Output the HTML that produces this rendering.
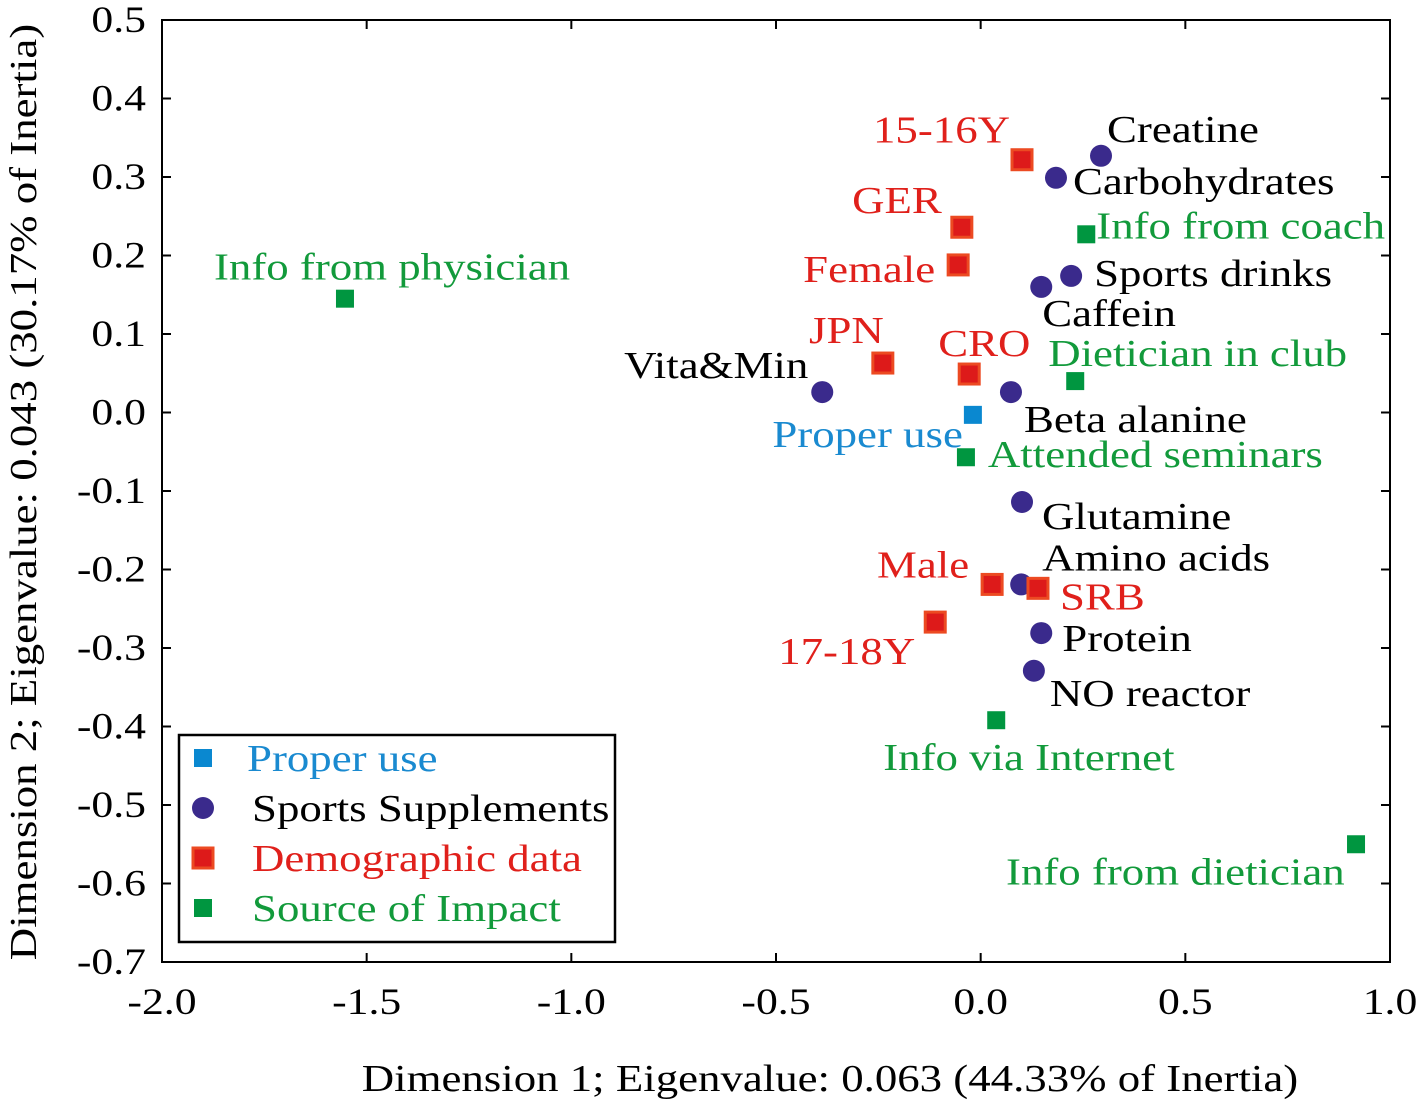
<!DOCTYPE html>
<html><head><meta charset="utf-8"><style>
body{margin:0;background:#fff}
svg text{font-family:"Liberation Serif",serif}
</style></head><body>
<svg width="1418" height="1103" xmlns="http://www.w3.org/2000/svg" id="chart">
</svg>
<script>
const names=["Info from physician","15-16Y","Creatine","Carbohydrates","Info from coach","GER","Female","Sports drinks","Caffein","JPN","CRO","Dietician in club","Vita&Min","Beta alanine","Proper use","Attended seminars","Glutamine","Male","Amino acids","SRB","17-18Y","Protein","NO reactor","Info via Internet","Info from dietician"];
const dim1=[-1.553,0.101,0.294,0.184,0.258,-0.046,-0.055,0.221,0.148,-0.239,-0.028,0.231,-0.387,0.074,-0.019,-0.036,0.101,0.028,0.099,0.140,-0.111,0.148,0.130,0.038,0.917];
const dim2=[0.145,0.322,0.327,0.299,0.227,0.236,0.188,0.174,0.160,0.063,0.049,0.040,0.026,0.026,-0.003,-0.057,-0.114,-0.219,-0.219,-0.224,-0.267,-0.281,-0.329,-0.392,-0.550];
const groups=["s","d","p","p","s","d","d","p","p","d","d","s","p","p","u","s","p","d","p","d","d","p","p","s","s"];
const xTicks=["-2.0","-1.5","-1.0","-0.5","0.0","0.5","1.0"];
const yTicks=["0.5","0.4","0.3","0.2","0.1","0.0","-0.1","-0.2","-0.3","-0.4","-0.5","-0.6","-0.7"];
const lab=[[-131,-19,"start"],[-12,-17,"end"],[6,-14,"start"],[17,16,"start"],[10,4,"start"],[-20,-14,"end"],[-23,17,"end"],[23,10,"start"],[1,39,"start"],[1,-20,"end"],[-31,-18,"start"],[-27,-15,"start"],[-14,-14,"end"],[13,40,"start"],[-10,32,"end"],[22,10,"start"],[20,27,"start"],[-23,-7,"end"],[21,-14,"start"],[22,21,"start"],[-20,42,"end"],[21,18,"start"],[16,35,"start"],[-113,50,"start"],[-350,40,"start"]];
const col={p:"#000",d:"#e0201b",s:"#129a3b",u:"#1a8ad0"};
const svg=document.getElementById('chart');const NS="http://www.w3.org/2000/svg";
const L=162,R=1390,T=20,B=962,STRETCH=1.18;
const xs=v=>L+(v+2)/3*(R-L);const ys=v=>T+(0.5-v)/1.2*(B-T);
function mk(t,a,p){const e=document.createElementNS(NS,t);for(const k in a)e.setAttribute(k,a[k]);(p||svg).appendChild(e);return e;}
function stretch(e){const w=e.getComputedTextLength();e.setAttribute('textLength',w*STRETCH);e.setAttribute('lengthAdjust','spacingAndGlyphs');}
let r=mk('rect',{x:L,y:T,width:R-L,height:B-T,fill:'none',stroke:'#000','stroke-width':2});


xTicks.forEach(t=>{const x=xs(+t);
 mk('line',{x1:x,x2:x,y1:B,y2:B-9,stroke:'#000','stroke-width':2});mk('line',{x1:x,x2:x,y1:T,y2:T+9,stroke:'#000','stroke-width':2});
 const e=mk('text',{x:x,y:1014,'font-size':37,'text-anchor':'middle'});e.textContent=t;stretch(e);
 
 });
yTicks.forEach(t=>{const y=ys(+t);
 mk('line',{x1:L,x2:L+9,y1:y,y2:y,stroke:'#000','stroke-width':2});mk('line',{x1:R,x2:R-9,y1:y,y2:y,stroke:'#000','stroke-width':2});
 const e=mk('text',{x:146,y:y+12,'font-size':37,'text-anchor':'end'});e.textContent=t;stretch(e);
 
 });
let xt=mk('text',{x:830,y:1091,'font-size':38,'text-anchor':'middle'});xt.textContent="Dimension 1; Eigenvalue: 0.063 (44.33% of Inertia)";stretch(xt);


let yt=mk('text',{x:0,y:0,'font-size':38,'text-anchor':'middle',transform:'translate(36,492) rotate(-90)'});yt.textContent="Dimension 2; Eigenvalue: 0.043 (30.17% of Inertia)";stretch(yt);


function marker(g,x,y){
 if(g=='p')return mk('circle',{cx:x,cy:y,r:11,fill:'#3a2a8c'});
 if(g=='d')return mk('rect',{x:x-10,y:y-10,width:20,height:20,fill:'#dd1a1a',stroke:'#ec4a22','stroke-width':3});
 return mk('rect',{x:x-9,y:y-9,width:18,height:18,fill:g=='u'?'#0a88d0':'#009640'});
}
names.forEach((n,i)=>{const x=xs(dim1[i]),y=ys(dim2[i]);
 const m=marker(groups[i],x,y);
 
 
 const o=lab[i];const t=mk('text',{x:x+o[0],y:y+o[1],'font-size':38,fill:col[groups[i]],'text-anchor':o[2]});t.textContent=n;stretch(t);
 
 });
const lg=mk('g',{});


mk('rect',{x:179,y:735,width:436,height:207,fill:'#fff',stroke:'#000','stroke-width':2.5},lg);
const legItems=[["Proper use","u"],["Sports Supplements","p"],["Demographic data","d"],["Source of Impact","s"]];
legItems.forEach((it,i)=>{const y=758+i*50;const m=marker(it[1],203,y);lg.appendChild(m);
 const t=mk('text',{x:it[1]=='u'?247:252,y:y+13,'font-size':38,fill:col[it[1]]},lg);t.textContent=it[0];stretch(t);
 
 });
</script>
</body></html>
